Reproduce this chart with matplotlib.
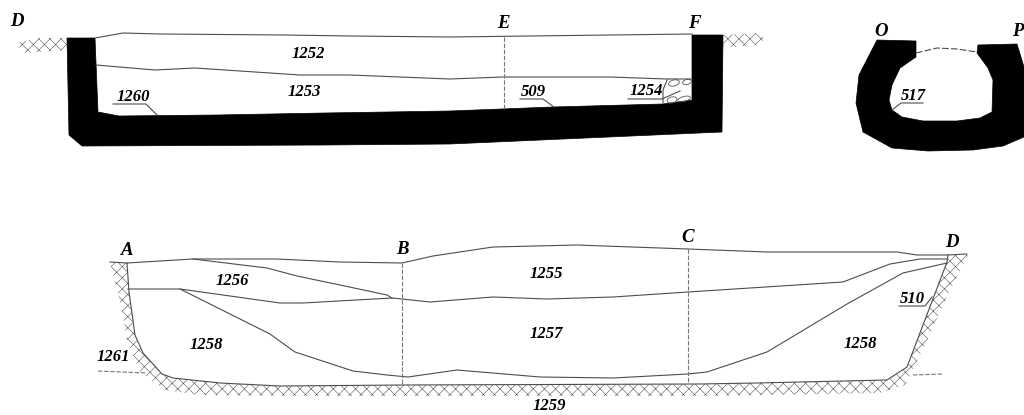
import matplotlib
matplotlib.use('Agg')
from matplotlib import pyplot as plt
from matplotlib.patches import Ellipse, Polygon

wall_upper = [(67, 38), (95, 38), (98, 112), (119, 116), (217, 115), (325, 113), (450, 111), (553, 107),
	(663, 104), (692, 100), (692, 35), (723, 35), (722, 132), (450, 144), (325, 145), (82, 146), (69, 135)]
surface_upper = [(95, 38), (123, 33), (160, 34), (285, 35), (350, 36), (450, 37), (610, 35), (692, 34)]
layer_upper = [(96, 65), (155, 70), (195, 68), (300, 75), (350, 75), (450, 79), (503, 77), (610, 77), (667, 79), (692, 79)]
ground_d = [(15, 43), (40, 38), (67, 38), (67, 50), (25, 53)]
ground_f = [(723, 35), (763, 33), (763, 44), (735, 47), (723, 46)]
rubble = [(667, 80), (663, 90), (663, 103)]
stones_x = [674, 687, 672, 684]
stones_y = [83, 82, 100, 99]
stones_w = [11, 9, 10, 13]
stones_h = [6, 5, 6, 5]

wall_tunnel = [(877, 40), (916, 41), (916, 57), (900, 68), (892, 85), (889, 100), (892, 110), (902, 117), (923, 121),
	(957, 121), (980, 118), (992, 112), (993, 80), (988, 68), (977, 53), (978, 45), (1017, 44), (1024, 67),
	(1024, 137), (1003, 146), (973, 150), (928, 151), (892, 148), (863, 132), (856, 103), (859, 75)]
arc_tunnel = [(916, 53), (937, 48), (957, 49), (977, 52)]

surface_lower = [(110, 262), (127, 263), (193, 259), (277, 259), (340, 262), (402, 263), (433, 256), (493, 247),
	(577, 245), (660, 248), (688, 249), (767, 252), (897, 252), (917, 255), (947, 255), (967, 254)]
layer_1256 = [(193, 259), (267, 268), (297, 276), (340, 285), (387, 295), (392, 298)]
layer_middle = [(128, 289), (180, 289), (280, 303), (303, 303), (392, 298), (402, 299), (430, 302), (493, 297),
	(547, 299), (613, 297), (688, 292), (843, 282), (890, 264), (920, 259), (947, 259)]
layer_1258 = [(180, 289), (270, 334), (295, 352), (353, 371), (387, 375), (408, 377), (457, 370), (540, 377),
	(613, 378), (688, 374), (707, 372), (767, 352), (847, 304), (903, 273), (947, 263)]
pit_edge = [(127, 263), (129, 292), (135, 335), (143, 353), (162, 374), (173, 378), (220, 383), (280, 386), (402, 385),
	(700, 384), (757, 383), (887, 380), (907, 367), (947, 262), (948, 255)]
pit_outer = [(968, 255), (950, 290), (925, 345), (905, 385), (880, 393), (700, 396), (300, 396), (200, 395), (165, 390),
	(140, 372), (127, 340), (122, 310), (112, 270), (110, 262)]

dashes = [
	[(504, 37), (504, 110)],
	[(402, 263), (402, 385)],
	[(688, 249), (688, 383)],
	[(98, 371), (147, 373)],
	[(913, 375), (943, 374)],
]
leaders = [
	[(113, 104), (146, 104), (157, 115)],
	[(520, 99), (543, 99), (554, 107)],
	[(628, 99), (662, 99), (680, 91)],
	[(923, 103), (901, 103), (892, 110)],
	[(899, 306), (925, 306), (932, 297)],
]

numbers = ['1252', '1253', '1260', '509', '1254', '517', '1256', '1255', '1258', '1257', '1258', '1261', '510', '1259']
numbers_x = [308, 304, 133, 533, 646, 913, 232, 546, 206, 546, 860, 113, 912, 549]
numbers_y = [54, 92, 97, 92, 91, 96, 281, 274, 345, 334, 344, 357, 299, 406]
letters = ['D', 'E', 'F', 'O', 'P', 'A', 'B', 'C', 'D']
letters_x = [17, 503, 694, 881, 1018, 127, 402, 688, 952]
letters_y = [21, 24, 24, 32, 32, 250, 249, 237, 242]

plt.rcParams['hatch.linewidth'] = 0.4
plt.rcParams['hatch.color'] = '#555555'
plt.rcParams['font.family'] = ['Liberation Serif', 'DejaVu Serif']

fig = plt.figure(figsize=(10.24, 4.15), dpi=100)
ax = fig.add_axes([0, 0, 1, 1])
ax.set_xlim(0, 1024)
ax.set_ylim(415, 0)
ax.axis('off')


def line(points, **kwargs):
	xs, ys = zip(*points)
	kwargs.setdefault('color', '#4d4d4d')
	kwargs.setdefault('lw', 0.8)
	ax.plot(xs, ys, **kwargs)


for ground in [ground_d, ground_f, pit_edge + pit_outer]:
	ax.add_patch(Polygon(ground, closed=True, facecolor='white', edgecolor='#555555', hatch='xxx', lw=0))

for wall in [wall_upper, wall_tunnel]:
	ax.add_patch(Polygon(wall, closed=True, facecolor='black', edgecolor='black', lw=0.5))

for points in [surface_upper, layer_upper, surface_lower, layer_1256, layer_middle, layer_1258, pit_edge, rubble]:
	line(points)
line(arc_tunnel, ls=(0, (6, 2)))
for points in dashes:
	line(points, ls=(0, (4, 1.5)), color='#777777')
for points in leaders:
	line(points)

for x, y, w, h in zip(stones_x, stones_y, stones_w, stones_h):
	ax.add_patch(Ellipse((x, y), w, h, angle=-15, facecolor='none', edgecolor='#555555', lw=0.6))

for text, x, y in zip(numbers, numbers_x, numbers_y):
	ax.text(x, y, text, fontsize=12, style='italic', weight='bold', ha='center', va='center')
for text, x, y in zip(letters, letters_x, letters_y):
	ax.text(x, y, text, fontsize=13.5, style='italic', weight='bold', ha='center', va='center')

fig.savefig('out.png', dpi=100)
